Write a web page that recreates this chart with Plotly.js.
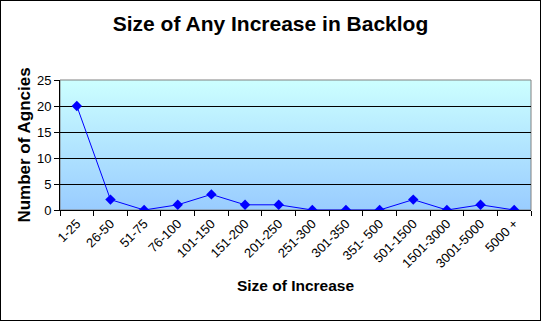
<!DOCTYPE html>
<html>
<head>
<meta charset="utf-8">
<script src="https://cdn.plot.ly/plotly-3.0.1.min.js"></script>
<style>
html,body{margin:0;padding:0;background:#fff;}
#chart{width:539px;height:319px;border:1px solid #000;}
</style>
</head>
<body>
<div id="chart"></div>
<script>
const categories = ["1-25","26-50","51-75","76-100","101-150","151-200","201-250","251-300","301-350","351- 500","501-1500","1501-3000","3001-5000","5000 +"];
const agencies = [20,2,0,1,3,1,1,0,0,0,2,0,1,0];
const yTicks = [0,5,10,15,20,25];

const grad = 'data:image/svg+xml;utf8,' + encodeURIComponent(
 '<svg xmlns="http://www.w3.org/2000/svg" width="100" height="100" preserveAspectRatio="none">' +
 '<defs><linearGradient id="g" x1="0" y1="0" x2="0" y2="1">' +
 '<stop offset="0" stop-color="#CCFFFF"/><stop offset="1" stop-color="#99CCFF"/></linearGradient></defs>' +
 '<rect width="100" height="100" fill="url(#g)"/></svg>');

const trace = {
  x: categories, y: agencies, type: 'scatter', mode: 'lines+markers',
  line: {color: '#0000FF', width: 1},
  marker: {symbol: 'diamond', color: '#0000FF', size: 8},
  hoverinfo: 'x+y'
};

const font = 'Liberation Sans, Arial, sans-serif';
const layout = {
  width: 539, height: 319,
  margin: {l: 59, r: 9, t: 79, b: 110},
  paper_bgcolor: '#FFFFFF', plot_bgcolor: 'rgba(0,0,0,0)',
  showlegend: false,
  title: {text: '<b>Size of Any Increase in Backlog</b>', font: {family: font, size: 21, color: '#000'}, x: 0.5, xanchor: 'center', y: 0.93, yanchor: 'middle'},
  xaxis: {
    type: 'category', tickson: 'boundaries', ticks: 'outside', ticklen: 5, tickcolor: '#000',
    showline: true, linecolor: '#000', linewidth: 1, showgrid: false, tickangle: -45,
    tickfont: {family: font, size: 13, color: '#000'},
    title: {text: '<b>Size of Increase</b>', font: {family: font, size: 15.5, color: '#000'}, standoff: 10},
    range: [-0.5, 13.5], fixedrange: true
  },
  yaxis: {
    range: [0, 25], tickvals: yTicks, ticks: 'outside', ticklen: 5, tickcolor: '#000',
    showline: true, linecolor: '#000', linewidth: 1, showgrid: true, gridcolor: '#000', gridwidth: 1,
    zeroline: false, tickfont: {family: font, size: 13, color: '#000'},
    title: {text: '<b>Number of Agncies</b>', font: {family: font, size: 17, color: '#000'}, standoff: 1},
    fixedrange: true
  },
  images: [{source: grad, xref: 'paper', yref: 'paper', x: 0, y: 1, sizex: 1, sizey: 1, sizing: 'stretch', layer: 'below', xanchor: 'left', yanchor: 'top'}],
  shapes: [{type: 'rect', xref: 'paper', yref: 'paper', x0: 0, x1: 1, y0: 0, y1: 1, line: {color: '#808080', width: 1}, layer: 'below'}]
};

Plotly.newPlot('chart', [trace], layout, {displayModeBar: false, staticPlot: true});
</script>
</body>
</html>
